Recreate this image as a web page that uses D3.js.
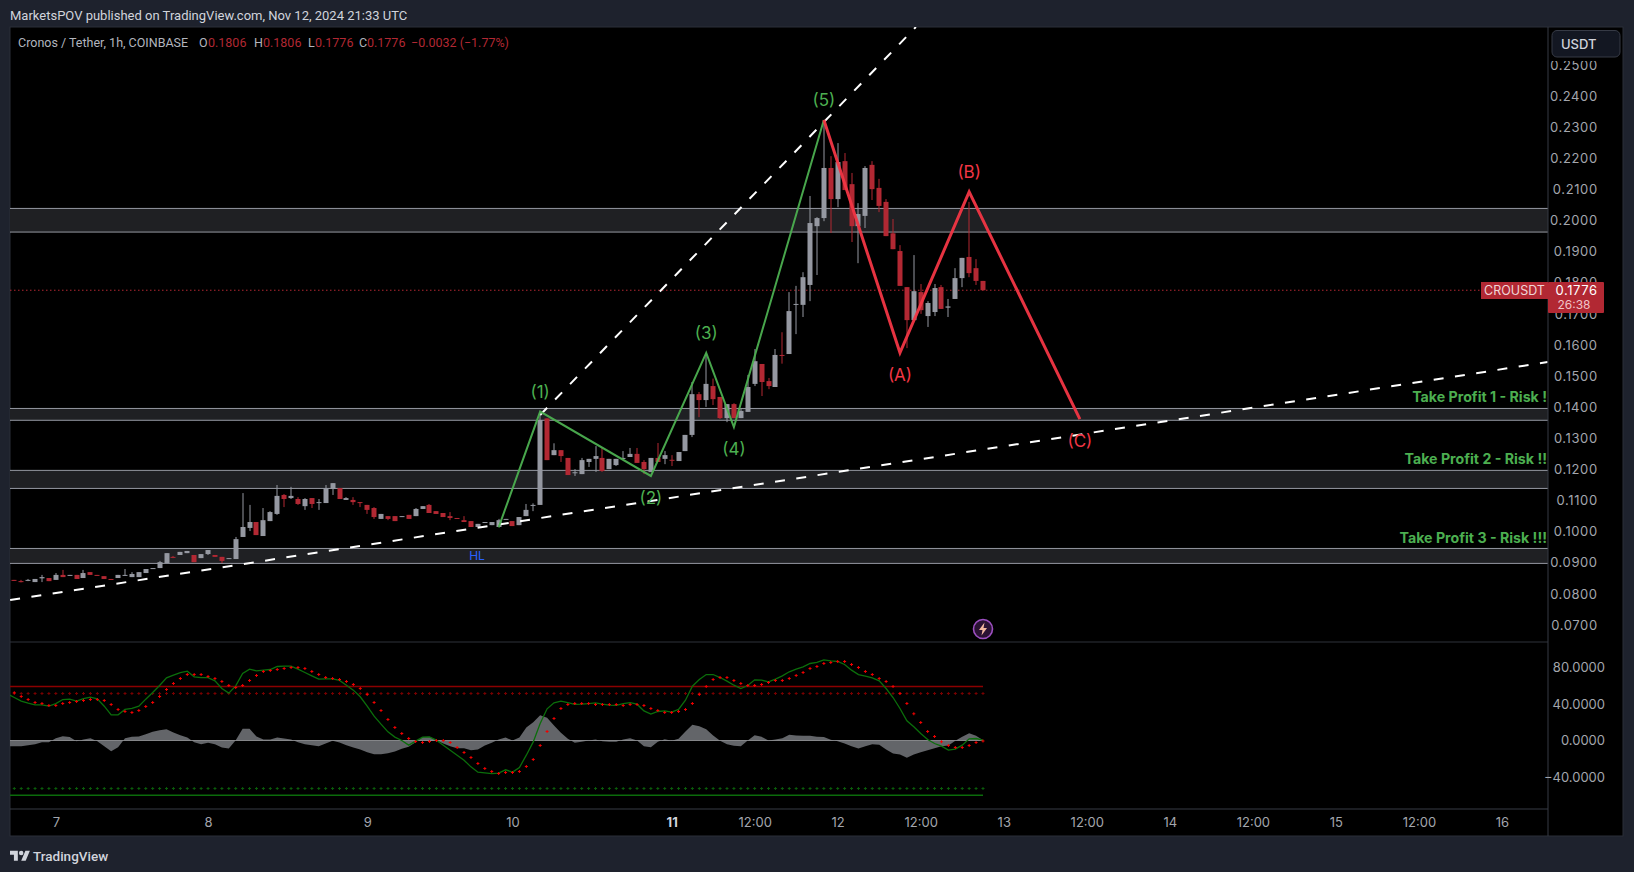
<!DOCTYPE html>
<html>
<head>
<meta charset="utf-8">
<title>CROUSDT</title>
<script src="https://d3js.org/d3.v7.min.js"></script>
<style>
  html, body { margin: 0; padding: 0; background: #1e222d; overflow: hidden; }
  svg { display: block; }
  text { font-family: Inter, "Noto Sans", sans-serif; }
</style>
</head>
<body>
<svg id="chart" width="1634" height="872"></svg>
<script>
// candles, one entry per hour bar
const opens = [.0845,.0841,.0842,.0838,.0850,.0851,.0845,.0861,.0858,.0861,.0851,.0870,.0861,.0857,.0848,.0851,.0858,.0854,.0854,.0867,
  .0881,.0883,.0899,.0919,.0925,.0931,.0925,.0915,.0928,.0925,.0919,.0913,.0912,.0983,.1012,.1031,.0986,.1034,.1057,.1118,
  .1108,.1105,.1082,.1108,.1093,.1092,.1137,.1140,.1102,.1102,.1095,.1086,.1076,.1041,.1050,.1050,.1047,.1054,.1050,.1073,
  .1086,.1066,.1060,.1050,.1044,.1037,.1034,.1015,.1029,.1021,.1015,.1038,.1034,.1021,.1050,.1084,.1086,.1364,.1246,.1262,
  .1237,.1189,.1185,.1224,.1234,.1237,.1201,.1214,.1234,.1240,.1250,.1224,.1192,.1237,.1234,.1231,.1227,.1259,.1311,.1442,
  .1423,.1468,.1433,.1365,.1410,.1365,.1385,.1475,.1539,.1484,.1465,.1568,.1571,.1730,.1729,.1793,.1982,.2008,.2169,.2069,
  .2191,.2117,.1982,.2015,.2179,.2105,.2060,.1959,.1902,.1786,.1680,.1770,.1693,.1706,.1786,.1720,.1748,.1815,.1883,.1847,.1806];
const highs = [.0845,.0845,.0848,.0848,.0861,.0851,.0867,.0877,.0861,.0861,.0877,.0870,.0861,.0857,.0848,.0861,.0880,.0870,.0870,.0880,
  .0883,.0906,.0931,.0922,.0935,.0938,.0925,.0928,.0941,.0925,.0919,.0915,.0983,.1124,.1086,.1031,.1076,.1066,.1150,.1121,
  .1144,.1111,.1108,.1108,.1105,.1150,.1156,.1140,.1111,.1111,.1095,.1086,.1079,.1057,.1050,.1050,.1050,.1054,.1076,.1082,
  .1089,.1066,.1060,.1063,.1044,.1050,.1034,.1025,.1031,.1031,.1041,.1041,.1034,.1047,.1089,.1091,.1381,.1364,.1284,.1262,
  .1237,.1201,.1237,.1234,.1275,.1269,.1234,.1234,.1259,.1269,.1269,.1230,.1237,.1285,.1259,.1246,.1256,.1311,.1481,.1449,
  .1573,.1492,.1433,.1410,.1413,.1394,.1504,.1587,.1539,.1494,.1587,.1641,.1770,.1790,.1834,.2079,.2011,.2323,.2207,.2249,
  .2217,.2153,.2056,.2175,.2191,.2134,.2069,.2005,.1921,.1786,.1889,.1796,.1741,.1796,.1793,.1748,.1847,.1880,.2060,.1876,.1806];
const lows = [.0842,.0837,.0841,.0838,.0838,.0841,.0845,.0854,.0858,.0848,.0851,.0861,.0858,.0848,.0846,.0851,.0858,.0854,.0854,.0867,
  .0881,.0883,.0899,.0915,.0925,.0931,.0902,.0915,.0925,.0919,.0899,.0913,.0912,.0983,.1002,.0989,.0986,.1034,.1054,.1079,
  .1105,.1086,.1070,.1076,.1070,.1092,.1118,.1105,.1102,.1086,.1079,.1057,.1041,.1041,.1037,.1034,.1047,.1041,.1050,.1073,
  .1060,.1057,.1047,.1037,.1042,.1031,.1015,.1015,.1029,.1021,.1015,.1038,.1018,.1021,.1050,.1066,.1086,.1230,.1246,.1224,
  .1182,.1179,.1185,.1208,.1192,.1192,.1201,.1211,.1234,.1240,.1221,.1185,.1192,.1224,.1217,.1211,.1227,.1259,.1304,.1368,
  .1401,.1407,.1362,.1352,.1365,.1365,.1385,.1468,.1436,.1458,.1465,.1540,.1571,.1635,.1690,.1741,.1825,.1998,.1960,.2043,
  .2098,.1931,.1863,.1976,.2066,.2027,.1950,.1908,.1790,.1590,.1680,.1700,.1658,.1693,.1716,.1690,.1748,.1786,.1818,.1793,.1776];
const closes = [.0842,.0839,.0845,.0848,.0854,.0841,.0861,.0854,.0861,.0848,.0867,.0861,.0858,.0848,.0846,.0861,.0861,.0864,.0870,.0880,
  .0883,.0902,.0931,.0916,.0935,.0938,.0902,.0928,.0941,.0919,.0906,.0915,.0976,.1015,.1031,.0989,.1037,.1063,.1115,.1105,
  .1115,.1089,.1105,.1089,.1095,.1140,.1156,.1105,.1108,.1095,.1093,.1070,.1047,.1057,.1041,.1034,.1050,.1041,.1073,.1082,
  .1060,.1057,.1047,.1044,.1042,.1031,.1015,.1025,.1031,.1031,.1037,.1041,.1018,.1047,.1070,.1086,.1359,.1230,.1262,.1243,
  .1182,.1191,.1230,.1234,.1243,.1195,.1234,.1234,.1237,.1250,.1221,.1201,.1237,.1224,.1246,.1229,.1256,.1311,.1442,.1423,
  .1475,.1426,.1365,.1410,.1365,.1388,.1465,.1548,.1481,.1468,.1568,.1566,.1709,.1732,.1818,.1992,.2008,.2169,.2069,.2188,
  .2098,.1982,.2021,.2169,.2101,.2047,.1950,.1908,.1790,.1680,.1773,.1712,.1735,.1783,.1716,.1724,.1815,.1880,.1831,.1806,.1776];

// oscillator pane, bar 0 onwards
const signalDots = [52.2,48.2,44.9,41.6,40.5,38.4,38.4,40.5,41.6,42.7,43.8,44.9,44.9,43.8,39.5,34,31.8,30.7,32.9,37.3,
  41.6,48.2,55.9,62.5,67.9,72.3,72.3,72.3,70.1,67.9,64.7,60.3,58.1,60.3,65.8,71.2,75.6,76.7,77.8,78.9,
  80,80,78.9,75.6,72.3,69,67.9,66.9,64.7,61.4,57,50.4,41.6,32.9,23,14.2,7.7,2.2,-1.1,-2.2,
  -1.1,0,0,-2.2,-7.7,-13.2,-18.6,-25.2,-30.7,-34,-36.2,-35.1,-35.1,-34,-28.5,-20.8,-5.5,9.9,24.1,35.1,
  39.5,40.5,40.5,40.5,39.5,39.5,39.5,39.5,38.4,39.5,39.5,38.4,35.1,32.9,30.7,30.7,31.8,34,40.5,50.4,
  59.2,66.9,69,69,65.8,62.5,60.3,60.3,61.4,63.6,65.8,65.8,67.9,71.2,74.5,78.9,81.1,84.4,85.5,86.6,
  86.6,83.3,80,75.6,72.3,67.9,64.7,59.2,51.5,40.5,29.2,19.7,9.9,4.4,-1.5,-5.5,-7.7,-7.7,-5.5,-2.2,-0.5];
// these two start one bar earlier, that bar is cut off by the left edge
const macdLine = [51,47.1,43.1,40.9,39.1,39.1,37.6,40.5,44.9,45.3,43.1,46,47.5,45.7,37.6,28.1,28.1,34,35.1,37.6,
  45.3,52.6,60.3,68.7,71.6,74.5,76,69.8,69,69,65.4,57,51.9,59.9,73.4,78.2,76.3,77.1,77.8,81.1,
  81.5,81.5,78.2,74.5,70.9,67.2,67.6,67.6,65.8,60.6,55.2,47.9,37.6,26.7,17.9,9.5,3.7,0,-5.1,-0.7,
  3.7,4,0.4,-5.1,-10.6,-16.1,-21.6,-28.9,-34.7,-35.4,-36.2,-35.8,-32.1,-34.7,-29.6,-16.1,-1.5,18.6,34.7,41.3,
  43.1,41.6,39.5,39.8,40.5,41.3,39.8,38.7,38.4,40.5,41.6,39.8,32.5,28.9,31.8,32.5,31.1,34,44.2,59.5,
  66.9,72.3,72.3,69,65,60.6,57,60.3,66.5,66.1,64.3,67.2,70.9,75.3,78.2,80.7,84.4,85.5,88.4,87.3,
  86.6,83.3,77.1,72.3,70.5,68.7,65.4,57,47.1,35.1,21.6,15,7.7,1.1,-3.3,-6.2,-10.6,-9.5,-5.1,1.8,2.2,0.4];
const histArea = [-6.2,-6.2,-6.2,-5.1,-4,-1.8,-1.8,2.6,4.7,3.7,-0.7,1.1,2.6,-0.7,-6.2,-11.7,-7.3,2.6,4,4.4,
  6.9,9.5,11.3,12.4,8.8,5.8,3.3,-1.8,-4,-2.6,-4,-7.7,-8.8,0.4,12.8,12.8,4.4,1.1,1.1,3.3,
  2.2,1.1,-1.8,-4,-5.1,-6.2,-3.3,-0.4,-2.2,-5.1,-7.7,-9.9,-12.8,-15,-15,-13.9,-12.1,-9.1,-6.9,-1.8,
  3.7,4,0.4,-3.3,-6.2,-8.4,-8.4,-10.6,-9.9,-5.5,-2.6,1.1,3.3,0,3.3,14.2,20.1,27.8,24.8,16.4,
  8.4,1.8,-2.6,-1.5,0,1.1,-0.7,-1.5,-1.5,1.1,2.6,0,-6.2,-7.3,-1.5,1.5,-0.4,1.8,9.9,17.2,
  15.7,12.4,5.5,-0.4,-4,-5.8,-6.2,0,5.8,4,0,1.1,2.6,6.2,5.5,5.1,5.1,4,3.7,0.7,
  -0.7,-3.3,-6.2,-8.8,-6.2,-4,-4.7,-9.9,-14.2,-15.3,-19,-15.3,-12.8,-10.6,-8.4,-6.2,-5.5,-0.4,4,8,5.1,0.4];
const oscLevelsSolid = [59.2, -60];
const oscLevelsDots = [51.5, -52.5];

// drawings
const zones = [[.2039, .1963], [.1396, .1358], [.1197, .1139], [.0946, .0898]];
const greenWaveBars = [70, 76, 92, 100, 104, 117];
const greenWavePrices = [.1014, .1386, .1179, .1575, .1336, .2323];
const greenWaveLabels = ["", "(1)", "(2)", "(3)", "(4)", "(5)"];
const redWaveBars = [117, 128, 138, 154];
const redWavePrices = [.2323, .1575, .2092, .1362];
const redWaveLabels = ["", "(A)", "(B)", "(C)"];
const trendBars = [-0.6, 221.6];
const trendPrices = [.0780, .1545];
const steepBars = [76, 130.3];
const steepPrices = [.1375, .2622];

const priceTicks = [.07,.08,.09,.10,.11,.12,.13,.14,.15,.16,.17,.18,.19,.20,.21,.22,.23,.24,.25];
const oscTicks = [80, 40, 0, -40];
const timeBars = [6, 28, 51, 72, 95, 107, 119, 131, 143, 155, 167, 179, 191, 203, 215];
const timeLabels = ["7", "8", "9", "10", "11", "12:00", "12", "12:00", "13", "12:00", "14", "12:00", "15", "12:00", "16"];
const takeProfits = ["Take Profit 1 - Risk !", "Take Profit 2 - Risk !!", "Take Profit 3 - Risk !!!"];
const takeProfitPrices = [.1417, .1219, .0964];
const lastPrice = .1776;

// colours
const upColor = "#9598a1";
const downColor = "#b22833";
const waveGreen = "#4caf50";
const waveRed = "#f23645";

// layout
const frame = { left: 10, right: 1623, top: 27, bottom: 836 };
const axisX = 1548, timeY = 809, paneY = 642;

const svg = d3.select("#chart");

// scales
const xScale = d3.scaleLinear().domain([0, 140]).range([14.3, 983]);
const yScale = d3.scaleLinear().domain([.25, .07]).range([65, 625]);
const oscScale = d3.scaleLinear().domain([80, -40]).range([667.5, 777]);

// chart background
svg.append("rect").attr("x", frame.left).attr("y", frame.top)
  .attr("width", frame.right - frame.left).attr("height", frame.bottom - frame.top)
  .attr("fill", "#000").attr("stroke", "#2a2e39");

const defs = svg.append("defs");
defs.append("clipPath").attr("id", "mainClip").append("rect")
  .attr("x", frame.left).attr("y", frame.top).attr("width", axisX - frame.left).attr("height", paneY - frame.top);
defs.append("clipPath").attr("id", "oscClip").append("rect")
  .attr("x", frame.left).attr("y", paneY).attr("width", axisX - frame.left).attr("height", timeY - paneY);

const main = svg.append("g").attr("clip-path", "url(#mainClip)");
const osc = svg.append("g").attr("clip-path", "url(#oscClip)");

// support zones
const zoneRows = main.selectAll(".zone").data(zones).join("g").attr("class", "zone");
zoneRows.append("rect")
  .attr("x", frame.left).attr("width", axisX - frame.left)
  .attr("y", d => yScale(d[0]))
  .attr("height", d => yScale(d[1]) - yScale(d[0]))
  .attr("fill", "#1f2023");
[0, 1].forEach(k => {
  zoneRows.append("line")
    .attr("x1", frame.left).attr("x2", axisX)
    .attr("y1", d => yScale(d[k])).attr("y2", d => yScale(d[k]))
    .attr("stroke", "#9598a1").attr("stroke-width", 1);
});

// last price line
main.append("line")
  .attr("x1", frame.left).attr("x2", axisX)
  .attr("y1", yScale(lastPrice)).attr("y2", yScale(lastPrice))
  .attr("stroke", downColor).attr("stroke-width", 1).attr("stroke-dasharray", "1.5 2.5");

// candles
const bars = d3.range(opens.length);
const candleColor = i => closes[i] >= opens[i] ? upColor : downColor;
main.append("g").selectAll("line").data(bars).join("line")
  .attr("x1", i => Math.round(xScale(i))).attr("x2", i => Math.round(xScale(i)))
  .attr("y1", i => yScale(highs[i])).attr("y2", i => yScale(lows[i]))
  .attr("stroke", candleColor).attr("stroke-width", 1);
main.append("g").selectAll("rect").data(bars).join("rect")
  .attr("x", i => Math.round(xScale(i)) - 2.5)
  .attr("width", 5)
  .attr("y", i => yScale(Math.max(opens[i], closes[i])))
  .attr("height", i => Math.max(1, Math.abs(yScale(opens[i]) - yScale(closes[i]))))
  .attr("fill", candleColor);

// trend lines
const lineGen = d3.line().x(d => xScale(d[0])).y(d => yScale(d[1]));
[[trendBars, trendPrices], [steepBars, steepPrices]].forEach(([b, p]) => {
  main.append("path")
    .attr("d", lineGen(d3.zip(b, p)))
    .attr("fill", "none").attr("stroke", "#fff")
    .attr("stroke-width", 2).attr("stroke-dasharray", "10 11.5");
});

// waves and their labels
function drawWave(waveBars, prices, labels, color, width) {
  main.append("path")
    .attr("d", lineGen(d3.zip(waveBars, prices)))
    .attr("fill", "none").attr("stroke", color)
    .attr("stroke-width", width).attr("stroke-linejoin", "miter").attr("opacity", 0.95);
  main.append("g").selectAll("text").data(labels).join("text")
    .attr("x", (d, i) => xScale(waveBars[i]))
    .attr("y", (d, i) => yScale(prices[i]) + (labels[i] === "(2)" || labels[i] === "(4)" || labels[i] === "(A)" || labels[i] === "(C)" ? 28 : -14))
    .attr("text-anchor", "middle")
    .attr("font-size", 17)
    .attr("fill", color)
    .text(d => d);
}
drawWave(greenWaveBars, greenWavePrices, greenWaveLabels, waveGreen, 2);
drawWave(redWaveBars, redWavePrices, redWaveLabels, waveRed, 3);

// take profit notes
main.append("g").selectAll("text").data(takeProfits).join("text")
  .attr("x", axisX - 1)
  .attr("y", (d, i) => yScale(takeProfitPrices[i]))
  .attr("text-anchor", "end")
  .attr("font-size", 14.2)
  .attr("font-weight", 700)
  .attr("fill", waveGreen)
  .text(d => d);

main.append("text").attr("x", 477).attr("y", 560).attr("text-anchor", "middle")
  .attr("font-size", 12).attr("fill", "#2962ff").text("HL");

// lightning badge
const badge = main.append("g").attr("transform", "translate(983,629)");
badge.append("circle").attr("r", 9.5).attr("fill", "#2a1233").attr("stroke", "#9c4fc0").attr("stroke-width", 1.6);
badge.append("path").attr("d", "M1.5 -6.5 L-4 1 L-0.5 1 L-1.5 6.5 L4 -1 L0.5 -1 Z").attr("fill", "#f2b8a0");

// oscillator pane
const area = d3.area()
  .x((d, i) => xScale(i - 1))
  .y0(oscScale(0))
  .y1(d => oscScale(d));
osc.append("path").attr("d", area(histArea)).attr("fill", "#636569");

osc.append("line").attr("x1", frame.left).attr("x2", xScale(140))
  .attr("y1", oscScale(0)).attr("y2", oscScale(0))
  .attr("stroke", "#9a9ca0").attr("stroke-width", 0.8);

oscLevelsSolid.forEach((v, k) => {
  osc.append("line").attr("x1", frame.left).attr("x2", xScale(140))
    .attr("y1", oscScale(v)).attr("y2", oscScale(v))
    .attr("stroke", k === 0 ? "#8b0000" : "#0b6b0b").attr("stroke-width", 1.5);
});

const cross = d3.symbol().type(d3.symbolCross).size(5);
oscLevelsDots.forEach((v, k) => {
  osc.append("g").selectAll("path").data(bars).join("path")
    .attr("d", cross)
    .attr("transform", i => `translate(${xScale(i)},${oscScale(v)})`)
    .attr("fill", k === 0 ? "#7a0000" : "#0a5c0a");
});

const macdGen = d3.line().x((d, i) => xScale(i - 1)).y(d => oscScale(d));
osc.append("path").attr("d", macdGen(macdLine))
  .attr("fill", "none").attr("stroke", "#0b6e0b").attr("stroke-width", 1.3);

osc.append("g").selectAll("path").data(signalDots).join("path")
  .attr("d", cross)
  .attr("transform", (d, i) => `translate(${xScale(i)},${oscScale(d)})`)
  .attr("fill", "#f00000");

// frame lines
svg.append("line").attr("x1", frame.left).attr("x2", axisX).attr("y1", paneY).attr("y2", paneY).attr("stroke", "#2f323b");
svg.append("line").attr("x1", frame.left).attr("x2", axisX).attr("y1", timeY).attr("y2", timeY).attr("stroke", "#363a45");
svg.append("line").attr("x1", axisX).attr("x2", axisX).attr("y1", frame.top).attr("y2", frame.bottom).attr("stroke", "#363a45");

// axes
const axisColor = "#a3a6ad";
const priceAxis = svg.append("g")
  .attr("transform", `translate(${axisX},0)`)
  .call(d3.axisRight(yScale).tickValues(priceTicks).tickFormat(d3.format(".4f")).tickSize(0));
priceAxis.select(".domain").remove();
priceAxis.selectAll("text").attr("x", 49.7).attr("text-anchor", "end")
  .attr("font-size", 13).attr("letter-spacing", 0.6).attr("fill", axisColor);

const oscAxis = svg.append("g")
  .attr("transform", `translate(${axisX},0)`)
  .call(d3.axisRight(oscScale).tickValues(oscTicks).tickFormat(d3.format(".4f")).tickSize(0));
oscAxis.select(".domain").remove();
oscAxis.selectAll("text").attr("x", 57).attr("text-anchor", "end")
  .attr("font-size", 13).attr("fill", axisColor);

const timeAxis = svg.append("g")
  .attr("transform", `translate(0,${timeY})`)
  .call(d3.axisBottom(xScale).tickValues(timeBars).tickFormat((d, i) => timeLabels[i]).tickSize(0));
timeAxis.select(".domain").remove();
timeAxis.selectAll("text").attr("y", 9)
  .attr("font-size", 13).attr("fill", axisColor);
timeAxis.selectAll("text").filter(d => d === 95).attr("font-weight", 700).attr("fill", "#d1d4dc");

// last price tags
svg.append("rect").attr("x", 1481).attr("y", 282).attr("width", 67).attr("height", 17).attr("fill", downColor);
svg.append("text").attr("x", 1514.5).attr("y", 295).attr("text-anchor", "middle")
  .attr("font-size", 12.5).attr("fill", "#f0d5d7").text("CROUSDT");
svg.append("rect").attr("x", 1548).attr("y", 282).attr("width", 56).attr("height", 31).attr("rx", 1).attr("fill", downColor);
svg.append("text").attr("x", 1597.7).attr("y", 295).attr("text-anchor", "end")
  .attr("font-size", 13).attr("letter-spacing", 0.6).attr("fill", "#fff").text(lastPrice.toFixed(4));
svg.append("text").attr("x", 1590.5).attr("y", 309).attr("text-anchor", "end")
  .attr("font-size", 12).attr("fill", "#f0c4c8").text("26:38");

// currency button, its backing cuts the top off the first price label
svg.append("rect").attr("x", 1549).attr("y", 28).attr("width", 73).attr("height", 33).attr("fill", "#000");
svg.append("rect").attr("x", 1552).attr("y", 30.5).attr("width", 68).attr("height", 26.5).attr("rx", 5)
  .attr("fill", "#131722").attr("stroke", "#363a45");
svg.append("text").attr("x", 1561).attr("y", 49).attr("font-size", 13).attr("font-weight", 500)
  .attr("fill", "#d1d4dc").text("USDT");

// header
svg.append("text").attr("x", 10).attr("y", 20).attr("font-size", 13).style("font-family", "Roboto").attr("fill", "#d1d4dc")
  .text("MarketsPOV published on TradingView.com, Nov 12, 2024 21:33 UTC");

const legendGrey = "#b2b5be";
const legendItems = [
  ["Cronos / Tether, 1h, COINBASE", 18, legendGrey],
  ["O", 199, legendGrey], ["0.1806", 208, downColor],
  ["H", 254, legendGrey], ["0.1806", 263, downColor],
  ["L", 308, legendGrey], ["0.1776", 315, downColor],
  ["C", 359, legendGrey], ["0.1776", 367, downColor],
  ["\u22120.0032 (\u22121.77%)", 411, downColor]
];
svg.append("g").selectAll("text").data(legendItems).join("text")
  .attr("x", d => d[1]).attr("y", 47)
  .attr("font-size", 12.5).style("font-family", "Roboto").attr("fill", d => d[2])
  .text(d => d[0]);

// footer logo
const logo = svg.append("g").attr("transform", "translate(10,848.5) scale(0.56)").attr("fill", "#d1d4dc");
logo.append("path").attr("d", "M14 22H7V11H0V4h14v18zM28 22h-8l7.5-18h8L28 22z");
logo.append("circle").attr("cx", 20).attr("cy", 8).attr("r", 4);
svg.append("text").attr("x", 33).attr("y", 861).attr("font-size", 13.5).style("font-family", "Roboto").attr("font-weight", 500)
  .attr("fill", "#d1d4dc").text("TradingView");
</script>
</body>
</html>
